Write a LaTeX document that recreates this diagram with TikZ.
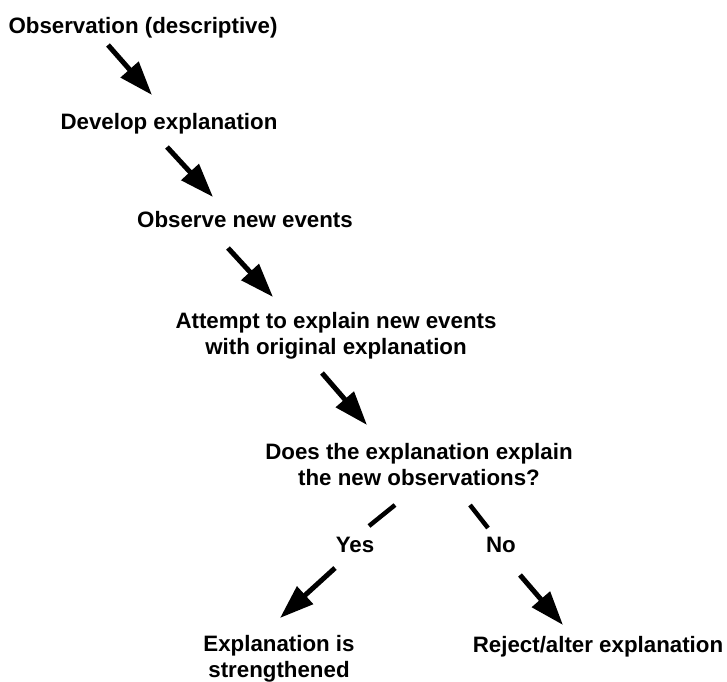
\documentclass[tikz,border=0pt]{standalone}
\usepackage{fontspec}
\setmainfont{Liberation Sans}
\usetikzlibrary{arrows.meta}
\begin{document}
\begin{tikzpicture}[x=1bp,y=-1bp,
  label text/.style={anchor=base,inner sep=0pt,align=center,
    font=\bfseries\fontsize{22.3bp}{26bp}\selectfont},
  flow arrow/.style={line width=5bp,-{Triangle[length=34bp,width=23bp]}},
  branch line/.style={line width=4.5bp,line cap=butt}]
\useasboundingbox (0,0) rectangle (727,682);

% steps of the procedure (base = baseline of the last line)
\node[label text] (obs) at (143,34) {Observation (descriptive)};
\node[label text] (dev) at (169,130) {Develop explanation};
\node[label text] (new) at (245,227) {Observe new events};
\node[label text] (att) at (336,354) {Attempt to explain new events\\with original explanation};
\node[label text] (ask) at (419,485) {Does the explanation explain\\the new observations?};
\node[label text] (yes) at (355,552) {Yes};
\node[label text] (no)  at (501,552) {No};
\node[label text] (str) at (279,677) {Explanation is\\strengthened};
\node[label text] (rej) at (598,652) {Reject/alter explanation};

% arrow end points
\coordinate (a1s) at (108,45);  \coordinate (a1e) at (152,95);
\coordinate (a2s) at (167,147); \coordinate (a2e) at (213,197);
\coordinate (a3s) at (228,248); \coordinate (a3e) at (273,297);
\coordinate (a4s) at (322,373); \coordinate (a4e) at (367,425);
\coordinate (y1s) at (395,505); \coordinate (y1e) at (369,526);
\coordinate (n1s) at (470,505); \coordinate (n1e) at (488,528);
\coordinate (y2s) at (335,568); \coordinate (y2e) at (280,618);
\coordinate (n2s) at (520,575); \coordinate (n2e) at (563,625);

\draw[flow arrow] (a1s) -- (a1e);
\draw[flow arrow] (a2s) -- (a2e);
\draw[flow arrow] (a3s) -- (a3e);
\draw[flow arrow] (a4s) -- (a4e);
\draw[branch line] (y1s) -- (y1e);
\draw[branch line] (n1s) -- (n1e);
\draw[flow arrow] (y2s) -- (y2e);
\draw[flow arrow] (n2s) -- (n2e);
\end{tikzpicture}
\end{document}
